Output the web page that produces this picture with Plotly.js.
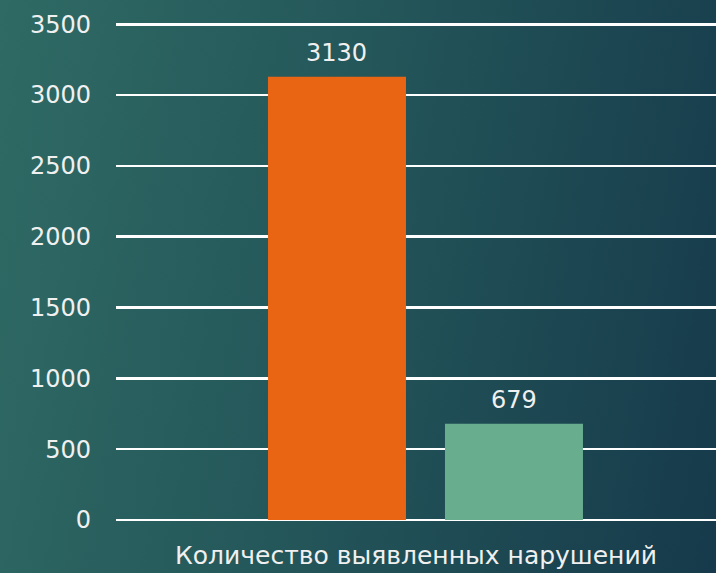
<!DOCTYPE html>
<html>
<head>
<meta charset="utf-8">
<script src="https://cdn.plot.ly/plotly-3.0.1.min.js"></script>
<style>
html,body{margin:0;padding:0;width:716px;height:573px;overflow:hidden;}
body{background:linear-gradient(100deg,#2f6a64 0%,#24575a 45%,#163a4b 100%);}
#chart{width:716px;height:573px;}
</style>
</head>
<body>
<div id="chart"></div>
<script>
const categories = ["Количество выявленных нарушений"];
const seriesA = [3130];
const seriesB = [679];
const yTicks = [0, 500, 1000, 1500, 2000, 2500, 3000, 3500];

const font = "DejaVu Sans, sans-serif";
const textColor = "#f0f0f0";
const seriesList = [
  {values: seriesA, color: "#e96514", offset: -0.2467},
  {values: seriesB, color: "#69ad8f", offset: 0.0483}
];
const barWidth = 0.23;
const data = seriesList.map(s => ({
  type:"bar", x:categories, y:s.values, marker:{color:s.color},
  width:barWidth, offset:s.offset, hoverinfo:"none"
}));
const annotations = [];
seriesList.forEach(s => {
  s.values.forEach((v, i) => {
    annotations.push({x:i + s.offset + barWidth/2, xref:"x", y:v, yref:"y", text:String(v),
      showarrow:false, yanchor:"bottom", yshift:8,
      font:{family:font, size:24, color:textColor}});
  });
});
const layout = {
  width:716, height:573,
  margin:{l:116, r:0, t:20, b:53, pad:0},
  paper_bgcolor:"rgba(0,0,0,0)", plot_bgcolor:"rgba(0,0,0,0)",
  showlegend:false,
  font:{family:font, color:textColor, size:22},
  annotations: annotations,
  xaxis:{type:"category", range:[-0.5,0.5], showgrid:false, showline:false, ticks:"",
         tickfont:{size:25, color:textColor}, ticklabelstandoff:18, fixedrange:true},
  yaxis:{range:[0,3530], tickvals:yTicks, ticktext:yTicks.map(String), showgrid:true,
         gridcolor:"#ffffff", gridwidth:2.5, zeroline:true, zerolinecolor:"#ffffff", zerolinewidth:2.5,
         showline:false, ticks:"", tickfont:{size:24, color:textColor}, ticklabelstandoff:24, fixedrange:true}
};
Plotly.newPlot("chart", data, layout, {displayModeBar:false, staticPlot:true});
</script>
</body>
</html>
